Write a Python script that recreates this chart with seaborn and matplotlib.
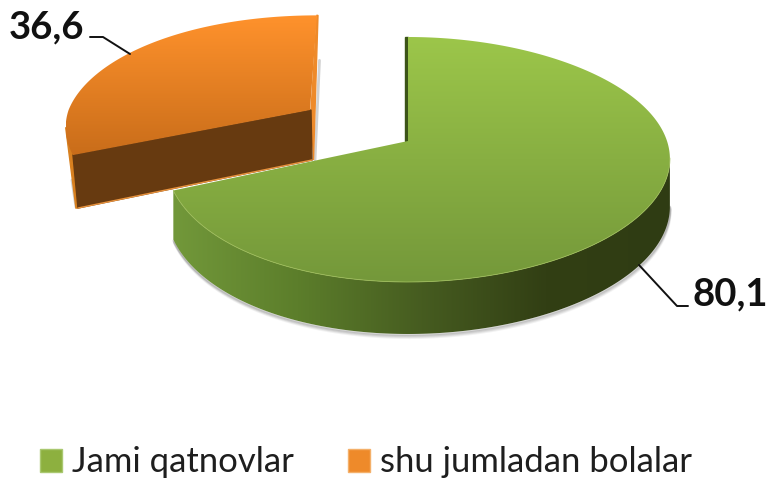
import numpy as np
import seaborn as sns
import matplotlib.pyplot as plt
from matplotlib.patches import Patch, Polygon

# Datos del grafico
categorias = ['Jami qatnovlar', 'shu jumladan bolalar']
valores = [80.1, 36.6]
colores = ['#8db03f', '#ee8a2a']

sns.set_theme(style='white')
plt.rcParams['font.family'] = ['Lato', 'DejaVu Sans']

fig, ax = plt.subplots(figsize=(7.69, 4.79), dpi=100)
fig.subplots_adjust(0, 0, 1, 1)

# la tarta da los angulos de cada sector
wedges, _ = ax.pie(valores, startangle=90, counterclock=False)
angulos = [(w.theta1, w.theta2) for w in wedges]
for w in wedges:
    w.remove()
ax.set_aspect('auto')
ax.axis('off')


def proyectar(theta, cx=408, cy=141, escala=1.0, escala_x=1.0, sesgo=0.0):
    t = np.radians(theta)
    x, y = np.cos(t), np.sin(t)
    w = 1 + 0.151 * y
    px = cx + escala * escala_x * (249 + 10 * x) * x / w + sesgo * np.clip(y, 0, None)
    py = cy - escala * 119.7 * y / w
    return px, py


def cara_degradada(xs, ys, colores_grad, zorder, horizontal=False):
    # degradado recortado a la forma del poligono
    pol = Polygon(np.column_stack([xs, ys]), closed=True, fc='none', ec='none')
    ax.add_patch(pol)
    img = np.array(sns.blend_palette(colores_grad, 256))
    img = img.reshape(1, 256, 3) if horizontal else img.reshape(256, 1, 3)
    im = ax.imshow(img, extent=(np.min(xs), np.max(xs), np.max(ys), np.min(ys)), aspect='auto',
                   interpolation='bilinear', zorder=zorder)
    im.set_clip_path(pol)


# --- sector naranja (separado) ---
cx_n, cy_n = 310, 110
cfg_nar = dict(cx=cx_n, cy=cy_n, escala=0.91, escala_x=1.11, sesgo=7)
t1, t2 = min(angulos[1]), max(angulos[1])
th = np.linspace(t1, t2, 160)
xn, yn = proyectar(th, **cfg_nar)
x_top, y_top = xn[0], yn[0]
x_fin, y_fin = xn[-1], yn[-1]

# sombra a la derecha y a la izquierda
ax.plot([x_top + 2.5, cx_n + 5], [y_top + 45, cy_n + 50], color='#b5b5b5', lw=2, alpha=0.6, zorder=1.5)
ax.plot([x_fin - 1, x_fin + 3], [y_fin + 25, y_fin + 52], color='#b5b5b5', lw=2, alpha=0.6, zorder=1.5)
# borde derecho fino
ax.fill([x_top, x_top + 1, cx_n + 3.5, cx_n + 1], [y_top, y_top, cy_n + 50, cy_n],
        color='#ee8a2a', zorder=1.8)
# pared izquierda fina
xb, yb = proyectar(t2 - 14, **cfg_nar)
ax.fill([xb, x_fin, x_fin + 5, x_fin + 3], [yb, y_fin, y_fin + 53, y_fin + 53],
        color='#d8801f', zorder=1.9)
# cara de corte
ax.fill([cx_n + 1, x_fin, x_fin + 5, cx_n + 2], [cy_n, y_fin, y_fin + 53, cy_n + 50],
        color='#673a10', zorder=2)
ax.plot([x_fin + 5, cx_n + 2], [y_fin + 53, cy_n + 50], color='#e9923c', lw=1.0, zorder=2.1)
cara_degradada(np.r_[cx_n, xn], np.r_[cy_n, yn], ['#ff922c', '#c96d1a'], 3)

# --- sector verde ---
t1, t2 = min(angulos[0]), max(angulos[0])
th = np.linspace(t1, t2, 360)
xv, yv = proyectar(th)
prof = 50

# pared lateral visible
vis = np.linspace(t1, -8, 260)
xl, yl = proyectar(vis)
dz = prof * (0.94 - 0.10 * np.sin(np.radians(vis)))

# sombra suave bajo la pared
for off, alfa in [(4, 0.10), (3, 0.15), (2, 0.25), (1, 0.3)]:
    ax.plot(xl + off * 0.2, yl + dz + off, color='#808080', lw=1.5, alpha=alfa, zorder=3.2)

cara_degradada(np.r_[xl, xl[::-1]], np.r_[yl, (yl + dz)[::-1]],
               ['#72983a', '#5c7e2b', '#465c20', '#323f14', '#2f3c13'], 4, horizontal=True)

# corte oscuro junto al vertice
ax.fill([408, xv[-1], xv[-1] - 3, 405], [141, yv[-1], yv[-1], 141], color='#3c5418', zorder=3.5)
cara_degradada(np.r_[408, xv], np.r_[141, yv], ['#9cc64a', '#74983a'], 5)
ax.plot(xl, yl, color='#9cbb58', lw=0.6, zorder=5.5)

# etiquetas de datos con lineas guia
etiquetas = [f'{v}'.replace('.', ',') for v in valores]
ax.plot([688, 677, 639], [306, 306, 265], color='#111111', lw=1.4, zorder=6)
ax.plot([90, 103, 130], [37, 37, 54], color='#111111', lw=1.4, zorder=6)
ax.text(692, 305, etiquetas[0], fontsize=27.5, fontweight='bold', color='#111111', va='baseline')
ax.text(9, 38, etiquetas[1], fontsize=27.5, fontweight='bold', color='#111111', va='baseline')

ax.set_xlim(0, 769)
ax.set_ylim(479, 0)

# leyenda
manijas = [Patch(fc=colores[0], ec='#a9c870'), Patch(fc=colores[1], ec='#f4b06a')]
ax.legend(manijas, categorias, loc='lower left', bbox_to_anchor=(40 / 769, 0.5 / 479), ncol=2,
          frameon=False, fontsize=24.9, handlelength=0.63, handleheight=0.63, handletextpad=0.29,
          columnspacing=1.58, labelcolor='#1e1e1e', borderpad=0, borderaxespad=0)

fig.savefig('out.png', dpi=100)
